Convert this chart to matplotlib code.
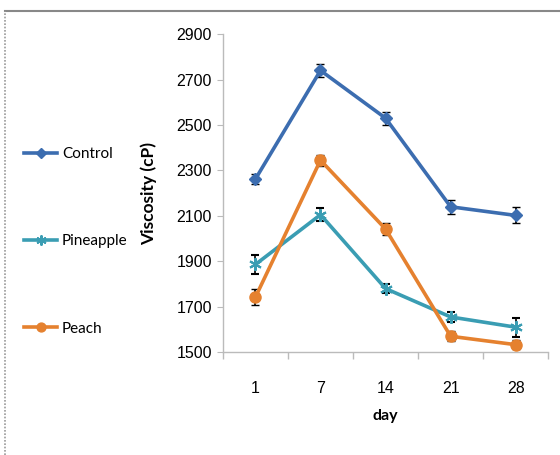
import matplotlib.pyplot as plt
from matplotlib.lines import Line2D

days = ["1", "7", "14", "21", "28"]
control = [2262, 2740, 2530, 2140, 2102]
control_err = [22, 30, 28, 30, 35]
pineapple = [1886, 2105, 1780, 1655, 1610]
pineapple_err = [40, 28, 20, 22, 42]
peach = [1742, 2345, 2042, 1570, 1533]
peach_err = [35, 25, 25, 22, 20]
yticks = [1500, 1700, 1900, 2100, 2300, 2500, 2700, 2900]

plt.rcParams['font.family'] = ['Liberation Sans', 'DejaVu Sans']
label_font = ["Lato", "DejaVu Sans"]

fig = plt.figure(figsize=(5.6, 4.55), dpi=100)
ax = fig.add_axes([0.398, 0.226, 0.581, 0.699])

x = list(range(len(days)))
series = [
    ("Control", control, control_err, "#3C6DB0", "D", 6, 1),
    ("Pineapple", pineapple, pineapple_err, "#3A9DB3", (6, 2, 0), 9, 1.5),
    ("Peach", peach, peach_err, "#E5812F", "o", 8, 1),
]
handles = []
for name, vals, err, col, mk, ms, mew in series:
    ax.errorbar(x, vals, yerr=err, color=col, lw=2.6, marker=mk, ms=ms,
                mec=col, mew=mew, ecolor="black", elinewidth=1.2, capsize=3,
                capthick=1.5, zorder=3)
    handles.append(Line2D([], [], color=col, lw=2.6, marker=mk, ms=ms * 0.8,
                          mec=col, mew=mew))

ax.set_xlim(-0.5, len(days) - 0.5)
ax.set_ylim(1500, 2900)
ax.set_yticks(yticks)
ax.set_xticks(x)
ax.set_xticklabels(days)
ax.set_xticks([i - 0.5 for i in range(len(days) + 1)], minor=True)
ax.tick_params(axis="x", which="major", length=0, pad=21, labelsize=11.5)
ax.tick_params(axis="x", which="minor", length=5, color="#BBBBBB", width=1)
ax.tick_params(axis="y", length=4, color="#BBBBBB", labelsize=11.5, pad=4)

for side in ["top", "right"]:
    ax.spines[side].set_visible(False)
for side in ["left", "bottom"]:
    ax.spines[side].set_color("#BBBBBB")
    ax.spines[side].set_linewidth(1)

ax.set_ylabel("Viscosity (cP)", fontweight="bold", fontsize=12.5, labelpad=14,
              family=label_font)
ax.set_xlabel("day", fontweight="bold", fontsize=11.5, labelpad=9,
              family=label_font)

leg = fig.legend(handles, ["Control", "Pineapple", "Peach"],
                 loc="upper left", bbox_to_anchor=(0.018, 0.707),
                 frameon=False, labelspacing=4.8,
                 handlelength=2.2, handletextpad=0.3,
                 prop={"family": label_font, "size": 11})

# outer frame lines
fig.add_artist(Line2D([0.009, 1.0], [0.976, 0.976], transform=fig.transFigure,
                      color="#888888", lw=1.5))
fig.add_artist(Line2D([0.009, 0.009], [0.0, 0.976], transform=fig.transFigure,
                      color="#999999", lw=1.2, ls=(0, (1, 1))))

fig.savefig("out.png", dpi=100)
